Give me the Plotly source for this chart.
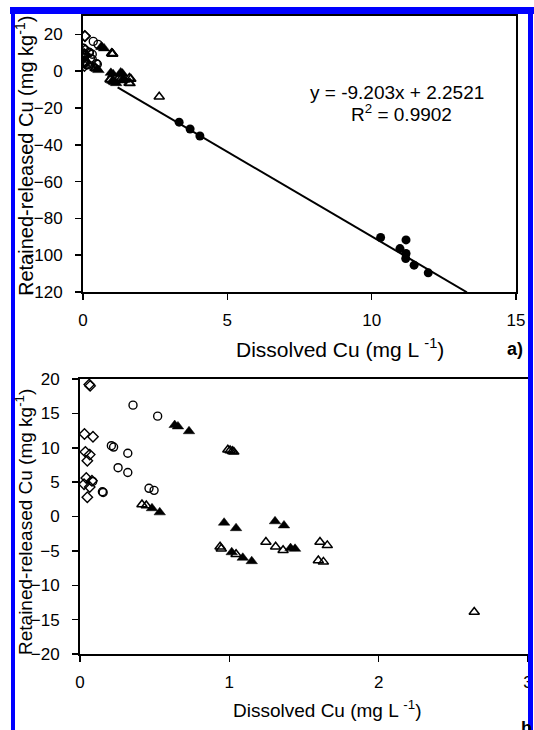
import plotly.graph_objects as go

# ---------------- data ----------------
diamond_x = [0.062, 0.068, 0.030, 0.087, 0.036, 0.065, 0.049, 0.042, 0.080, 0.027, 0.065, 0.049]
diamond_y = [19.2, 19.0, 12.0, 11.6, 9.4, 9.0, 8.1, 5.6, 5.2, 4.7, 4.3, 2.8]

circle_x = [0.355, 0.52, 0.21, 0.225, 0.32, 0.255, 0.32, 0.15, 0.155, 0.462, 0.496, 0.085]
circle_y = [16.2, 14.6, 10.3, 10.1, 9.2, 7.1, 6.4, 3.6, 3.5, 4.1, 3.8, 5.1]

ftri_x = [0.634, 0.656, 0.73, 0.482, 0.534, 0.965, 1.045, 1.306, 1.366, 1.016, 1.09, 1.15, 1.41, 1.44]
ftri_y = [13.3, 13.1, 12.4, 1.2, 0.6, -0.9, -1.7, -0.7, -1.3, -5.2, -6.0, -6.5, -4.6, -4.7]

otri_x = [0.415, 0.444, 0.99, 1.005, 1.02, 1.03, 0.938, 0.946, 1.045, 1.245, 1.31, 1.36,
          1.607, 1.656, 1.596, 1.63, 2.64]
otri_y = [1.75, 1.6, 9.7, 9.6, 9.5, 9.4, -4.4, -4.7, -5.5, -3.7, -4.4, -4.9,
          -3.7, -4.2, -6.4, -6.6, -13.9]

fcirc_x = [3.33, 3.71, 4.05, 10.31, 11.19, 10.98, 11.19, 11.18, 11.47, 11.96]
fcirc_y = [-27.7, -31.4, -35.2, -90.4, -91.7, -96.4, -99.1, -101.8, -105.4, -109.6]

fit_slope = -9.203
fit_intercept = 2.2521
fit_x = [1.2, 13.3]
fit_y = [fit_slope * v + fit_intercept for v in fit_x]

top_yticks = [-120, -100, -80, -60, -40, -20, 0, 20]
top_xticks = [0, 5, 10, 15]
bot_yticks = [-20, -15, -10, -5, 0, 5, 10, 15, 20]
bot_xticks = [0, 1, 2, 3]

# ---------------- layout helpers ----------------
W, H = 534, 730
def px(x):
    return x / W
def py(y):
    return 1 - y / H

FONT = "Liberation Sans, Arial, sans-serif"
fig = go.Figure()

def add_markers(xa, ya, with_fcirc):
    common = dict(mode="markers", xaxis=xa, yaxis=ya, showlegend=False, hoverinfo="skip")
    fig.add_trace(go.Scatter(x=diamond_x, y=diamond_y,
                             marker=dict(symbol="diamond-open", size=8, color="black",
                                         line=dict(width=1.4, color="black")), **common))
    fig.add_trace(go.Scatter(x=circle_x, y=circle_y,
                             marker=dict(symbol="circle-open", size=8, color="black",
                                         line=dict(width=1.4, color="black")), **common))
    fig.add_trace(go.Scatter(x=otri_x, y=otri_y,
                             marker=dict(symbol="triangle-up-open", size=9, color="black",
                                         line=dict(width=1.5, color="black")), **common))
    fig.add_trace(go.Scatter(x=ftri_x, y=ftri_y,
                             marker=dict(symbol="triangle-up", size=10, color="black",
                                         line=dict(width=0.5, color="black")), **common))
    if with_fcirc:
        fig.add_trace(go.Scatter(x=fcirc_x, y=fcirc_y,
                                 marker=dict(symbol="circle", size=9, color="black"), **common))

# top panel: fit line
fig.add_trace(go.Scatter(x=fit_x, y=fit_y, mode="lines", xaxis="x", yaxis="y",
                         line=dict(color="black", width=2), showlegend=False, hoverinfo="skip"))
add_markers("x", "y", True)
add_markers("x2", "y2", True)

axis_common = dict(showline=True, linewidth=2, linecolor="black", mirror=True,
                   showgrid=False, zeroline=False, ticks="outside", ticklen=6,
                   tickwidth=1.5, tickcolor="black", automargin=False,
                   tickfont=dict(family=FONT, size=17, color="black"))

fig.update_layout(
    template="none",
    width=W, height=H,
    margin=dict(l=0, r=0, t=0, b=0, pad=0),
    paper_bgcolor="white", plot_bgcolor="white",
    xaxis=dict(domain=[px(83), px(516)], range=[0, 15], tickvals=top_xticks,
               anchor="y", ticklabelstandoff=6, **axis_common),
    yaxis=dict(domain=[py(292), py(16)], range=[-120, 30], tickvals=top_yticks,
               anchor="x", ticklabelstandoff=9, **axis_common),
    xaxis2=dict(domain=[px(80), px(528)], range=[0, 3], tickvals=bot_xticks,
                anchor="y2", ticklabelstandoff=6, **axis_common),
    yaxis2=dict(domain=[py(654), py(379)], range=[-20, 20], tickvals=bot_yticks,
                anchor="x2", ticklabelstandoff=9, **axis_common),
)

def ann(text, x, y, size, **kw):
    d = dict(text=text, x=px(x), y=py(y), xref="paper", yref="paper", showarrow=False,
             xanchor="center", yanchor="middle",
             font=dict(family=FONT, size=size, color="black"))
    d.update(kw)
    fig.add_annotation(**d)

ytitle = "Retained-released Cu (mg kg<sup>-1</sup>)"
xtitle = "Dissolved Cu (mg L <sup>-1</sup>)"
ann(ytitle, 24, 156, 20, textangle=-90)
ann(ytitle, 24, 522, 19, textangle=-90)
ann(xtitle, 340, 348, 21)
ann(xtitle, 328, 709, 19)
ann("y = -9.203x + 2.2521", 397, 93, 19)
ann("R<sup>2</sup> = 0.9902", 401, 113, 19)
ann("<b>a)</b>", 515, 349, 18)
ann("<b>b</b>", 526, 716, 18, yanchor="top")

# blue scan border (filled strips)
blue = "#0000ff"
fig.add_shape(type="rect", xref="paper", yref="paper", layer="above",
              x0=px(10), x1=px(534), y0=py(14), y1=py(7),
              fillcolor=blue, line=dict(width=0))
fig.add_shape(type="rect", xref="paper", yref="paper", layer="above",
              x0=px(11), x1=px(15), y0=py(730), y1=py(7),
              fillcolor=blue, line=dict(width=0))
fig.add_shape(type="rect", xref="paper", yref="paper", layer="above",
              x0=px(528), x1=px(533), y0=py(730), y1=py(7),
              fillcolor=blue, line=dict(width=0))

post = (
    "document.documentElement.style.margin='0';"
    "document.body.style.margin='0';"
    "document.body.style.overflow='hidden';"
    "var g=document.getElementsByClassName('plotly-graph-div')[0];"
    "if(g){g.style.position='absolute';g.style.top='0px';g.style.left='0px';}"
    "window.scrollTo(0,0);"
)
fig.write_html("out.html",
               config={"displayModeBar": False, "staticPlot": True},
               post_script=post)
